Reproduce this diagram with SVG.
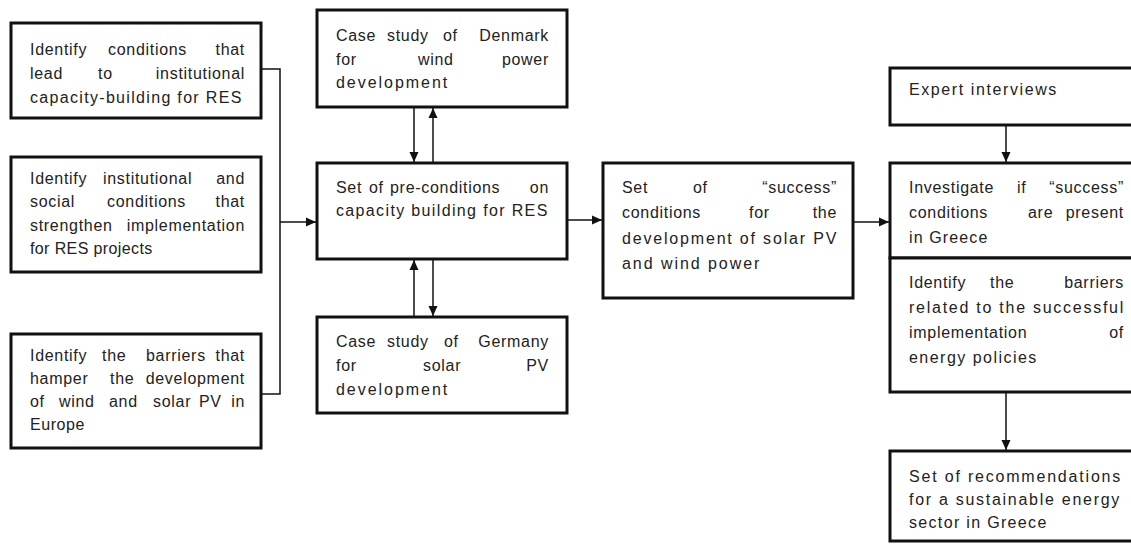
<svg xmlns="http://www.w3.org/2000/svg" width="1131" height="545" viewBox="0 0 1131 545">
<style>
.box{fill:#fff;stroke:#111;stroke-width:3}
.t{font-family:"Liberation Sans",Arial,sans-serif;font-size:16px;fill:#222;letter-spacing:0.7px}
.c{fill:none;stroke:#111;stroke-width:1.5}
.a{fill:none;stroke:#111;stroke-width:1.5;marker-end:url(#ah)}
.e{text-anchor:end}
</style>
<defs>
<marker id="ah" markerWidth="10" markerHeight="10" refX="10" refY="5" orient="auto" markerUnits="userSpaceOnUse"><path d="M0,0.5 L10,5 L0,9.5 z" fill="#111"/></marker>
</defs>
<rect width="1131" height="545" fill="#fff"/>
<g id="connectors">
<path class="c" d="M261,69 H280 V394 H261"/>
<path class="a" d="M280,222 H316"/>
<path class="a" d="M414,107 V162"/>
<path class="a" d="M433,163 V108"/>
<path class="a" d="M414,317 V260"/>
<path class="a" d="M433,259 V316"/>
<path class="a" d="M567,220 H602"/>
<path class="a" d="M853,222 H889"/>
<path class="a" d="M1006,125 V162"/>
<path class="a" d="M1006,392 V450"/>
</g>
<g id="n1">
<rect class="box" x="11" y="23" width="250" height="95"/>
<text class="t" y="55"><tspan x="30">Identify</tspan><tspan x="108">conditions</tspan><tspan x="245" class="e">that</tspan></text>
<text class="t" y="79"><tspan x="30">lead</tspan><tspan x="98">to</tspan><tspan x="245" class="e">institutional</tspan></text>
<text class="t" x="30" y="103" textLength="212" lengthAdjust="spacing">capacity-building for RES</text>
</g>
<g id="n2">
<rect class="box" x="11" y="157" width="250" height="115"/>
<text class="t" y="184"><tspan x="30">Identify</tspan><tspan x="103">institutional</tspan><tspan x="245" class="e">and</tspan></text>
<text class="t" y="207"><tspan x="30">social</tspan><tspan x="107">conditions</tspan><tspan x="245" class="e">that</tspan></text>
<text class="t" y="231"><tspan x="30">strengthen</tspan><tspan x="245" class="e">implementation</tspan></text>
<text class="t" x="30" y="254" textLength="123" lengthAdjust="spacing">for RES projects</text>
</g>
<g id="n3">
<rect class="box" x="11" y="334" width="250" height="114"/>
<text class="t" y="361"><tspan x="30">Identify</tspan><tspan x="102">the</tspan><tspan x="146">barriers</tspan><tspan x="245" class="e">that</tspan></text>
<text class="t" y="384"><tspan x="30">hamper</tspan><tspan x="110">the</tspan><tspan x="245" class="e">development</tspan></text>
<text class="t" y="407"><tspan x="30">of</tspan><tspan x="59">wind</tspan><tspan x="109">and</tspan><tspan x="153">solar</tspan><tspan x="199">PV</tspan><tspan x="245" class="e">in</tspan></text>
<text class="t" x="30" y="430" textLength="55" lengthAdjust="spacing">Europe</text>
</g>
<g id="n4">
<rect class="box" x="317" y="10" width="250" height="97"/>
<text class="t" y="41"><tspan x="336">Case</tspan><tspan x="387">study</tspan><tspan x="443">of</tspan><tspan x="549" class="e">Denmark</tspan></text>
<text class="t" y="65"><tspan x="336">for</tspan><tspan x="418">wind</tspan><tspan x="549" class="e">power</tspan></text>
<text class="t" x="336" y="88" textLength="112" lengthAdjust="spacing">development</text>
</g>
<g id="n5">
<rect class="box" x="317" y="163" width="250" height="96"/>
<text class="t" y="193"><tspan x="336">Set</tspan><tspan x="369">of</tspan><tspan x="390">pre-conditions</tspan><tspan x="549" class="e">on</tspan></text>
<text class="t" x="336" y="216" textLength="212" lengthAdjust="spacing">capacity building for RES</text>
</g>
<g id="n6">
<rect class="box" x="317" y="317" width="250" height="96"/>
<text class="t" y="347"><tspan x="336">Case</tspan><tspan x="387">study</tspan><tspan x="444">of</tspan><tspan x="549" class="e">Germany</tspan></text>
<text class="t" y="371"><tspan x="336">for</tspan><tspan x="423">solar</tspan><tspan x="549" class="e">PV</tspan></text>
<text class="t" x="336" y="395" textLength="112" lengthAdjust="spacing">development</text>
</g>
<g id="n7">
<rect class="box" x="603" y="163" width="250" height="135"/>
<text class="t" y="193"><tspan x="622">Set</tspan><tspan x="693">of</tspan><tspan x="837" class="e">“success”</tspan></text>
<text class="t" y="218"><tspan x="622">conditions</tspan><tspan x="749">for</tspan><tspan x="837" class="e">the</tspan></text>
<text class="t" x="622" y="244" textLength="215" lengthAdjust="spacing">development of solar PV</text>
<text class="t" x="622" y="269" textLength="138" lengthAdjust="spacing">and wind power</text>
</g>
<g id="n8">
<rect class="box" x="890" y="68" width="260" height="57"/>
<text class="t" x="909" y="95" textLength="148" lengthAdjust="spacing">Expert interviews</text>
</g>
<g id="n9">
<rect class="box" x="890" y="163" width="260" height="95"/>
<text class="t" y="193"><tspan x="909">Investigate</tspan><tspan x="1017">if</tspan><tspan x="1124" class="e">“success”</tspan></text>
<text class="t" y="218"><tspan x="909">conditions</tspan><tspan x="1028">are</tspan><tspan x="1124" class="e">present</tspan></text>
<text class="t" x="909" y="243" textLength="79" lengthAdjust="spacing">in Greece</text>
</g>
<g id="n10">
<rect class="box" x="890" y="258" width="260" height="134"/>
<text class="t" y="288"><tspan x="909">Identify</tspan><tspan x="990">the</tspan><tspan x="1124" class="e">barriers</tspan></text>
<text class="t" x="909" y="313" textLength="215" lengthAdjust="spacing">related to the successful</text>
<text class="t" y="338"><tspan x="909">implementation</tspan><tspan x="1124" class="e">of</tspan></text>
<text class="t" x="909" y="363" textLength="128" lengthAdjust="spacing">energy policies</text>
</g>
<g id="n11">
<rect class="box" x="890" y="451" width="260" height="90"/>
<text class="t" x="909" y="482" textLength="212" lengthAdjust="spacing">Set of recommendations</text>
<text class="t" x="909" y="505" textLength="211" lengthAdjust="spacing">for a sustainable energy</text>
<text class="t" x="909" y="528" textLength="138" lengthAdjust="spacing">sector in Greece</text>
</g>
</svg>
